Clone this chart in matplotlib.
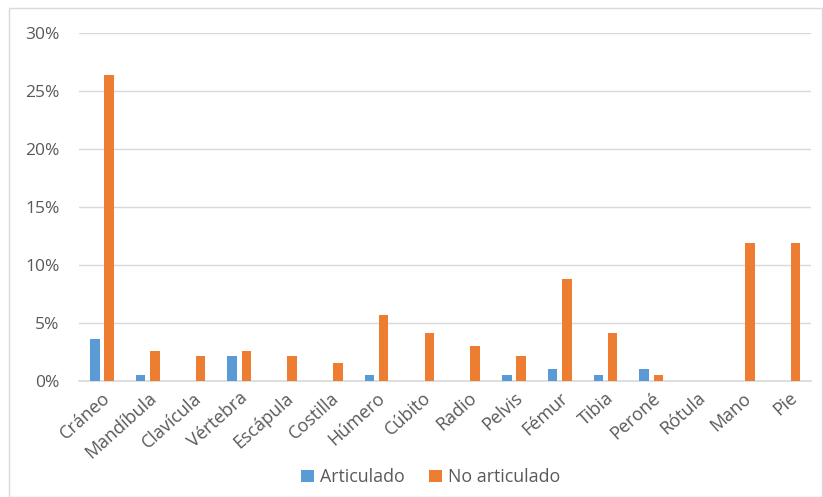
import numpy as np
import matplotlib.pyplot as plt
from matplotlib.patches import Rectangle
from matplotlib.ticker import FuncFormatter

plt.rcParams['font.family'] = ['Open Sans', 'DejaVu Sans']

# Data (percent)
huesos = ["Cráneo", "Mandíbula", "Clavícula", "Vértebra", "Escápula", "Costilla",
          "Húmero", "Cúbito", "Radio", "Pelvis", "Fémur", "Tibia", "Peroné",
          "Rótula", "Mano", "Pie"]
articulado = [3.6, 0.5, 0.0, 2.1, 0.0, 0.0, 0.5, 0.0, 0.0, 0.5, 1.0, 0.5, 1.0, 0.0, 0.0, 0.0]
no_articulado = [26.4, 2.6, 2.1, 2.6, 2.1, 1.5, 5.7, 4.1, 3.0, 2.1, 8.8, 4.1, 0.5, 0.0, 11.9, 11.9]

azul = "#5B9BD5"
naranja = "#ED7D31"
gris_txt = "#595959"
gris_linea = "#D9D9D9"

fig = plt.figure(figsize=(8.23, 4.97), dpi=100)
ax = fig.add_axes([0.096, 0.234, 0.890, 0.700])

x = np.arange(len(huesos))
w = 0.21
ax.bar(x - 0.155, articulado, w, color=azul, label="Articulado", zorder=3)
ax.bar(x + 0.155, no_articulado, w, color=naranja, label="No articulado", zorder=3)

ax.set_xlim(-0.5, len(huesos) - 0.5)
ax.set_ylim(0, 30)
ax.set_yticks(np.arange(0, 31, 5))
ax.yaxis.set_major_formatter(FuncFormatter(lambda v, p: f"{v:.0f}%"))
ax.grid(axis="y", color=gris_linea, linewidth=1, zorder=0)

for s in ["top", "right", "left"]:
    ax.spines[s].set_visible(False)
ax.spines["bottom"].set_color(gris_linea)
ax.spines["bottom"].set_linewidth(1.2)

ax.set_xticks(x)
ax.set_xticklabels(huesos, rotation=42, ha="right", rotation_mode="anchor")
ax.tick_params(axis="both", length=0, colors=gris_txt, labelsize=12.5)
ax.tick_params(axis="x", labelsize=13, pad=6)
ax.tick_params(axis="y", pad=14)

fig.legend(loc="center", bbox_to_anchor=(0.523, 0.04), ncol=2, frameon=False,
           fontsize=12.8, handlelength=0.73, handleheight=0.73, handletextpad=0.35,
           columnspacing=1.35, labelcolor=gris_txt)

# outer frame
fig.patches.append(Rectangle((9 / 823, 0.0), 1 - 9 / 823 - 0.001, 1 - 8 / 497,
                             transform=fig.transFigure, fill=False,
                             edgecolor=gris_linea, linewidth=1))

fig.savefig("out.png", dpi=100)
